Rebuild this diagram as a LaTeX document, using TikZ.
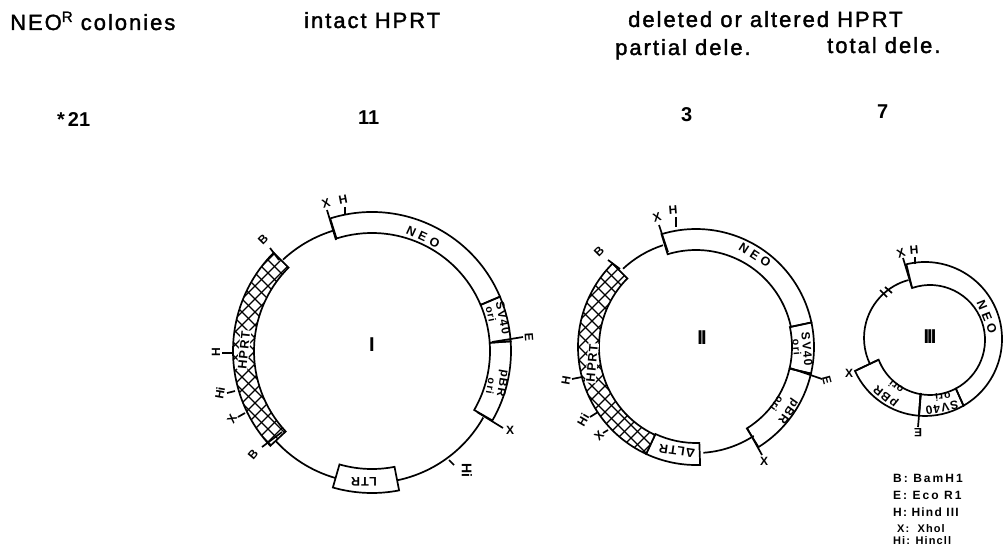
\documentclass[tikz,border=0pt]{standalone}
\usepackage{fontspec}
\setmainfont{Liberation Sans}
\newcommand{\bandpath}[8]{([shift={(-#3:#2)}]#1) arc[start angle=-#3,end angle=-#4,radius=#2] -- ([shift={(-#8:#6)}]#5) arc[start angle=-#8,end angle=-#7,radius=#6] -- cycle}
\newcommand{\hatchband}[8]{%
  \fill[white] \bandpath{#1}{#2}{#3}{#4}{#5}{#6}{#7}{#8};
  \begin{scope}
    \clip \bandpath{#1}{#2}{#3}{#4}{#5}{#6}{#7}{#8};
    \foreach \k in {-24,...,24}{
      \draw[hatch] ([shift={(\k*13,0)}]#1) ++(-170,-170) -- ++(340,340);
      \draw[hatch] ([shift={(\k*13,0)}]#1) ++(-170,170) -- ++(340,-340);
    }
  \end{scope}
  \draw[outl] \bandpath{#1}{#2}{#3}{#4}{#5}{#6}{#7}{#8};
}
\newcommand{\site}[6]{%
  \coordinate (#1-a) at (#2);
  \coordinate (#1-b) at (#3);
  \draw[tick] (#1-a) -- (#1-b);
  \node[sitelab,rotate=#5] (#1) at (#4) {#6};
}
\tikzset{
  outl/.style={draw=black,line width=1.7pt},
  plain/.style={draw=black,line width=1.7pt},
  hatch/.style={draw=black,line width=1.2pt},
  tick/.style={draw=black,line width=1.7pt},
  head/.style={anchor=base west,inner sep=0pt,font=\fontsize{22}{22}\selectfont\addfontfeatures{LetterSpace=9,FakeBold=1.6}},
  num/.style={anchor=base west,inner sep=0pt,font=\fontsize{20}{20}\bfseries\selectfont},
  sitelab/.style={inner sep=0pt,font=\fontsize{12}{12}\bfseries\selectfont},
  bandlab/.style={inner sep=0pt,font=\fontsize{12.5}{12.5}\bfseries\selectfont\addfontfeatures{LetterSpace=10}},
  neolab/.style={inner sep=0pt,font=\fontsize{12.5}{12.5}\bfseries\selectfont\addfontfeatures{LetterSpace=32}},
  svlab/.style={inner sep=0pt,font=\fontsize{12}{12}\bfseries\selectfont\addfontfeatures{LetterSpace=10}},
  orilab/.style={inner sep=0pt,font=\fontsize{10.5}{10.5}\bfseries\selectfont\addfontfeatures{LetterSpace=10}},
  roman/.style={inner sep=0pt,font=\fontsize{20}{20}\bfseries\selectfont\addfontfeatures{LetterSpace=-10}},
  legend/.style={anchor=base west,inner sep=0pt,font=\fontsize{12}{12}\bfseries\selectfont\addfontfeatures{LetterSpace=17}},
  legendb/.style={anchor=base west,inner sep=0pt,font=\fontsize{11}{11}\bfseries\selectfont\addfontfeatures{LetterSpace=10}}
}
\begin{document}
\begin{tikzpicture}[x=1pt,y=1pt,yscale=-1]
\useasboundingbox (0,0) rectangle (1006,548);
% headings
\node[head] (h1) at (10,30) {NEO\raisebox{8pt}{\fontsize{15}{15}\selectfont R} colonies};
\node[head] (h2) at (304,28) {intact HPRT};
\node[head] (h3) at (628,27) {deleted or altered HPRT};
\node[head] (h4) at (615,55) {partial dele.};
\node[head] (h5) at (827,53) {total dele.};
\node[num] (n1) at (57,127) {*\kern3pt 21};
\node[num] (n2) at (358,125) {11};
\node[num] (n3) at (681,122) {3};
\node[num] (n4) at (877,119) {7};

% ---------- plasmid I
\draw[plain] (371,354) ++(-106.6:129) arc[start angle=-106.6,end angle=-133,radius=129];
\draw[plain] (371,354) ++(-221:129) arc[start angle=-221,end angle=-254,radius=129];
\draw[plain] (371,354) ++(78:129) arc[start angle=78,end angle=29.5,radius=129];
\draw[outl] \bandpath{372,351}{118}{107.5}{23}{372,351}{139}{107.5}{23};
\draw[outl] \bandpath{372,351}{118}{23}{4}{372,351}{139}{23}{4};
\draw[outl] \bandpath{372,351}{118}{4}{-30}{372,351}{139}{4}{-30};
\draw[outl] \bandpath{372,351}{118}{254}{281}{372,351}{142}{254}{281};
\hatchband{372,351}{118}{135}{223}{372,351}{139}{135}{223}
\node[neolab,rotate=-25] (i-neo) at (423,237) {NEO};
\node[svlab,rotate=-78] (i-sv) at (503,318) {SV40};
\node[orilab,rotate=-78] (i-svo) at (491,314) {ori};
\node[svlab,rotate=-100] (i-pbr) at (502,383) {pBR};
\node[orilab,rotate=-100] (i-pbo) at (491,386) {ori};
\node[bandlab,rotate=180] (i-ltr) at (364,482) {LTR};
\node[bandlab,rotate=84,fill=white,inner sep=1pt] (i-hprt) at (244,350) {HPRT};
\node[roman] (i-lab) at (372,345) {I};
\site{i1}{336,240}{327,210}{326,203}{17}{X}
\site{i2}{345,215}{345,207}{343,200}{11}{H}
\site{i3}{279,260}{270,248}{263,240}{45}{B}
\site{i4}{232,353}{222,353}{216,352}{90}{H}
\site{i5}{235,391}{227,393}{220,393}{80}{Hi}
\site{i6}{245,413}{238,417}{232,419}{60}{X}
\site{i7}{282,432}{262,447}{253,455}{50}{B}
\site{i8}{449,460}{454,465}{467,470}{-90}{\fontsize{14}{14}\selectfont Hi}
\site{i9}{477,412}{503,428}{510,430}{0}{X}
\site{i10}{492,342}{523,337}{529,337}{-86}{E}

% ---------- plasmid II
\draw[plain] (696,347) ++(-108:107) arc[start angle=-108,end angle=-133,radius=107];
\draw[plain] (696,347) ++(86:106) arc[start angle=86,end angle=57,radius=106];
\draw[outl] \bandpath{696,347}{97}{107}{12}{696,347}{118}{107}{12};
\draw[outl] \bandpath{696,347}{96}{12}{-13}{696,347}{118}{12}{-13};
\draw[outl] \bandpath{696,347}{96}{-13}{-58}{696,347}{118}{-13}{-58};
\draw[outl] \bandpath{696,347}{96}{245}{272}{696,347}{118}{245}{272};
\hatchband{696,347}{97}{135}{245}{696,347}{118}{135}{245}
\node[neolab,rotate=-33] (ii-neo) at (755,255) {NEO};
\node[svlab,rotate=-85] (ii-sv) at (807,349) {SV40};
\node[orilab,rotate=-85] (ii-svo) at (797,347) {ori};
\node[svlab,rotate=-125] (ii-pbr) at (788,411) {pBR};
\node[orilab,rotate=-125] (ii-pbo) at (777,404) {ori};
\node[bandlab,rotate=172] (ii-ltr) at (677,451) {ΔLTR};
\node[bandlab,rotate=85,fill=white,inner sep=1pt] (ii-hprt) at (592,363) {HPRT};
\node[roman] (ii-lab) at (702,338) {II};
\site{ii1}{668,252}{659,225}{657,217}{17}{X}
\site{ii2}{676,227}{676,217}{673,210}{5}{H}
\site{ii3}{620,269}{608,260}{599,252}{45}{B}
\site{ii4}{582,377}{572,379}{566,381}{80}{H}
\site{ii5}{598,412}{590,417}{583,420}{60}{Hi}
\site{ii6}{608,430}{603,433}{599,436}{45}{X}
\site{ii7}{790,368}{822,379}{827,380}{-75}{E}
\site{ii8}{747,428}{762,455}{764,461}{0}{X}

% ---------- plasmid III
\draw[plain] (924,338) ++(-105:60) arc[start angle=-105,end angle=-205.7,radius=60];
\draw[outl] \bandpath{930,340}{55}{109}{-62}{925,339}{77}{104}{-60};
\draw[outl] \bandpath{930,340}{55}{-62}{-100}{925,339}{77}{-60}{-94.5};
\draw[outl] \bandpath{930,340}{55}{-100}{-159}{925,339}{77}{-94.5}{-155.5};
\coordinate (br1a) at (880,290); \coordinate (br1b) at (887,297);
\coordinate (br2a) at (885,287); \coordinate (br2b) at (892,293);
\draw[tick] (br1a) -- (br1b);
\draw[tick] (br2a) -- (br2b);
\node[neolab,rotate=-68] (iii-neo) at (987,317) {NEO};
\node[svlab,rotate=191] (iii-sv) at (942,408) {SV40};
\node[orilab,rotate=185] (iii-svo) at (943,397) {ori};
\node[svlab,rotate=141] (iii-pbr) at (886,396) {pBR};
\node[orilab,rotate=141] (iii-pbo) at (896,387) {ori};
\node[roman] (iii-lab) at (930,337) {III};
\site{iii1}{912,288}{903,258}{901,253}{20}{X}
\site{iii2}{915,264}{915,257}{914,250}{5}{H}
\site{iii3}{878,360}{857,370}{849,373}{0}{X}
\site{iii4}{921,393}{918,427}{918,433}{180}{E}

% ---------- legend
\node[legend] (l1) at (893,482) {B: BamH1};
\node[legend] (l2) at (893,499) {E: Eco R1};
\node[legend,font=\fontsize{12}{12}\bfseries\selectfont\addfontfeatures{LetterSpace=10}] (l3) at (893,516) {H: Hind III};
\node[legendb] (l4) at (897,532) {X:\ \ Xhol};
\node[legendb] (l5) at (893,544) {Hi: Hincll};
\end{tikzpicture}
\end{document}
